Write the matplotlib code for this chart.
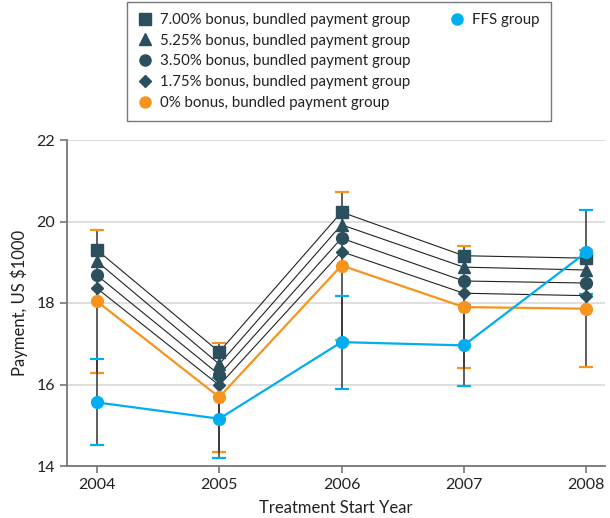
import matplotlib
matplotlib.use("Agg")
import matplotlib.pyplot as plt
from matplotlib.lines import Line2D

plt.rcParams['font.family'] = ['Lato', 'DejaVu Sans']

years = [2004, 2005, 2006, 2007, 2008]
bonus_labels = ["7.00% bonus, bundled payment group",
                "5.25% bonus, bundled payment group",
                "3.50% bonus, bundled payment group",
                "1.75% bonus, bundled payment group"]
bonus_markers = ["s", "^", "o", "D"]
bonus_700 = [19.30, 16.80, 20.23, 19.16, 19.10]
bonus_525 = [19.02, 16.50, 19.92, 18.88, 18.81]
bonus_350 = [18.68, 16.24, 19.59, 18.54, 18.49]
bonus_175 = [18.36, 15.98, 19.26, 18.24, 18.18]
bonus_0 = [18.04, 15.69, 18.92, 17.90, 17.86]
bonus_0_low = [16.27, 14.34, 17.08, 16.40, 16.44]
bonus_0_high = [19.79, 17.03, 20.73, 19.40, 19.29]
ffs = [15.56, 15.16, 17.04, 16.96, 19.24]
ffs_low = [14.51, 14.20, 15.89, 15.97, 18.22]
ffs_high = [16.63, 16.16, 18.18, 17.94, 20.27]

DARK = "#2b4f5c"
ORANGE = "#f7941d"
BLUE = "#00aeef"

fig = plt.figure(figsize=(6.10, 5.18), dpi=100)
ax = fig.add_axes([67/610, (518-466)/518, (605-67)/610, (466-140)/518])

def draw_err(vals, lo, hi, capcolor, z):
    yerr = [[v - l for v, l in zip(vals, lo)], [h - v for v, h in zip(vals, hi)]]
    _, caps, bars = ax.errorbar(years, vals, yerr=yerr, fmt='none', ecolor='#333333',
                                elinewidth=1.1, capsize=4.8, capthick=1.6, zorder=z)
    for c in caps:
        c.set_color(capcolor)
        c.set_markeredgecolor(capcolor)
        c.set_markerfacecolor(capcolor)
    return caps

draw_err(bonus_0, bonus_0_low, bonus_0_high, ORANGE, 2)
draw_err(ffs, ffs_low, ffs_high, BLUE, 2)

handles = []
for vals, mk, lab in zip([bonus_700, bonus_525, bonus_350, bonus_175], bonus_markers, bonus_labels):
    ax.plot(years, vals, color='#222222', lw=0.8, zorder=3)
    ms = 6.5 if mk == 'D' else 8.5
    ax.plot(years, vals, linestyle='none', marker=mk, color=DARK, ms=ms, zorder=4)
    handles.append(Line2D([], [], linestyle='none', marker=mk, color=DARK,
                          ms=6.5 if mk == 'D' else 8))

ax.plot(years, bonus_0, color=ORANGE, lw=1.6, marker='o', ms=8.5, zorder=5)
handles.append(Line2D([], [], linestyle='none', marker='o', color=ORANGE, ms=8))
ax.plot(years, ffs, color=BLUE, lw=1.6, marker='o', ms=8.5, zorder=6)
ffs_handle = Line2D([], [], linestyle='none', marker='o', color=BLUE, ms=8)

labels = bonus_labels + ["0% bonus, bundled payment group"]
blank = Line2D([], [], linestyle='none')
all_handles = handles + [ffs_handle] + [blank] * 4
all_labels = labels + ["FFS group"] + [""] * 4

leg = fig.legend(all_handles, all_labels, ncol=2, loc='upper left',
                 bbox_to_anchor=(127/610, 1 - 2/518), borderaxespad=0,
                 frameon=True, fancybox=False,
                 fontsize=10.8, handlelength=0.9, handletextpad=0.6,
                 labelspacing=0.45, columnspacing=2.6, borderpad=0.72)
leg.get_frame().set_edgecolor('#555555')
leg.get_frame().set_linewidth(1.0)
for t in leg.get_texts():
    t.set_color('#222222')

ax.set_xlim(2003.755, 2008.155)
ax.set_ylim(14, 22)
ax.set_xticks(years)
ax.set_xticklabels([str(y) for y in years])
ax.set_yticks([14, 16, 18, 20, 22])
ax.grid(axis='y', color='#d9d9d9', lw=1.2)
ax.set_axisbelow(True)
for s in ['top', 'right']:
    ax.spines[s].set_visible(False)
for s in ['left', 'bottom']:
    ax.spines[s].set_color('#777777')
    ax.spines[s].set_linewidth(1.3)
ax.tick_params(axis='both', colors='#777777', labelcolor='#222222', labelsize=11.5,
               length=5, width=1.2)
ax.set_xlabel("Treatment Start Year", fontsize=12, color='#222222', labelpad=6)
ax.set_ylabel("Payment, US $1000", fontsize=12, color='#222222', labelpad=6)

fig.savefig("out.png", dpi=100)
